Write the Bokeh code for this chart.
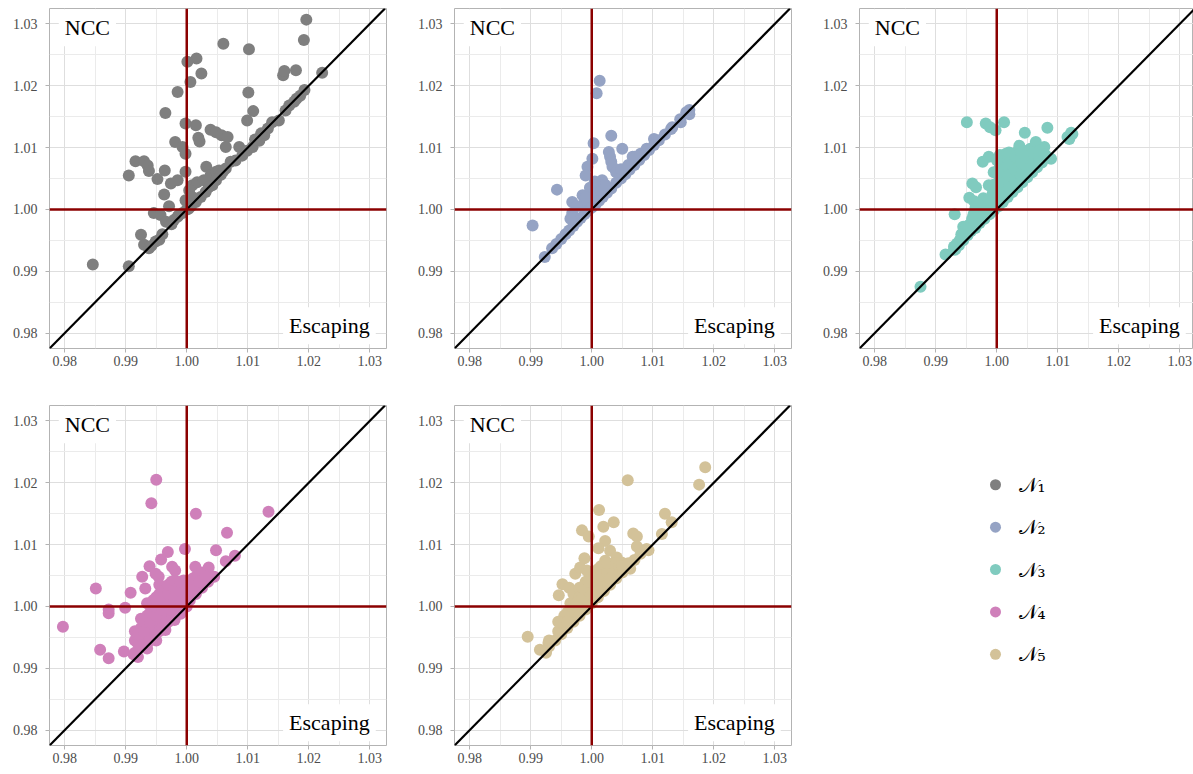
from bokeh.plotting import figure
from bokeh.models import Range1d, FixedTicker, PrintfTickFormatter, Span, Slope, Label, ColumnDataSource
from bokeh.layouts import column, row
from bokeh.embed import file_html
from bokeh.resources import INLINE
from bokeh.core.properties import value

# ---------------- data (Escaping, NCC) ----------------
series_labels = ["𝒩₁", "𝒩₂", "𝒩₃", "𝒩₄", "𝒩₅"]
series_colors = ["#7F7F7F", "#95A3C4", "#80CBBF", "#CF80BA", "#D3C299"]
major_ticks = [0.98, 0.99, 1.00, 1.01, 1.02, 1.03]
minor_ticks = [0.975, 0.985, 0.995, 1.005, 1.015, 1.025, 1.035]
corner_top = "NCC"
corner_bottom = "Escaping"

n1_points = [
    (1.0196, 1.0307), (1.0192, 1.0274), (1.0060, 1.0268), (1.0102, 1.0259), (1.0016, 1.0244),
    (1.0001, 1.0239), (1.0024, 1.0220), (1.0006, 1.0206), (0.9985, 1.0190), (1.0101, 1.0189),
    (1.0158, 1.0217), (1.0160, 1.0224), (1.0179, 1.0225), (1.0222, 1.0221), (1.0193, 1.0193),
    (1.0180, 1.0179), (0.9846, 0.9911), (1.0176, 1.0174), (1.0186, 1.0184),
    (0.9965, 1.0156), (0.9998, 1.0139), (1.0015, 1.0136), (0.9981, 1.0109), (1.0019, 1.0116),
    (1.0021, 1.0110), (1.0039, 1.0129), (1.0048, 1.0125), (1.0057, 1.0120), (1.0067, 1.0117),
    (1.0064, 1.0101), (1.0099, 1.0144), (1.0109, 1.0159), (1.0140, 1.0141), (1.0168, 1.0168),
    (1.0086, 1.0101), (0.9993, 1.0101), (0.9998, 1.0090), (0.9916, 1.0078), (0.9930, 1.0078),
    (0.9936, 1.0071), (0.9938, 1.0062), (0.9905, 1.0055), (0.9964, 1.0063), (0.9952, 1.0049),
    (0.9974, 1.0042), (0.9985, 1.0047), (0.9998, 1.0061), (1.0032, 1.0069), (1.0009, 1.0039),
    (1.0017, 1.0044), (1.0028, 1.0047), (1.0039, 1.0055), (1.0048, 1.0061), (1.0053, 1.0063),
    (1.0072, 1.0077), (1.0080, 1.0079), (1.0091, 1.0087), (1.0099, 1.0095), (1.0108, 1.0101),
    (1.0119, 1.0111), (1.0127, 1.0120), (1.0151, 1.0144), (1.0162, 1.0160), (1.0064, 1.0066),
    (0.9963, 1.0024), (0.9971, 1.0005), (0.9946, 0.9994), (0.9957, 0.9991), (0.9966, 0.9980),
    (0.9987, 0.9991), (0.9925, 0.9959), (0.9930, 0.9943), (0.9938, 0.9937), (0.9949, 0.9948),
    (0.9955, 0.9951), (0.9905, 0.9908), (0.9998, 1.0015), (1.0004, 1.0031), (1.0009, 1.0020),
    (0.9979, 0.9983), (0.9985, 0.9988), (0.9993, 0.9994), (1.0007, 1.0005), (1.0015, 1.0012),
    (1.0023, 1.0020), (1.0031, 1.0028), (1.0042, 1.0039), (1.0048, 1.0047), (1.0056, 1.0056),
    (1.0060, 1.0062), (1.0036, 1.0036), (0.9960, 0.9960), (0.9942, 0.9941), (0.9975, 0.9976),
    (1.0112, 1.0113), (1.0133, 1.0131), (1.0122, 1.0123), (1.0003, 1.0001), (1.0000, 1.0000),
]

n2_points = [
    (1.0013, 1.0208), (1.0008, 1.0188), (1.0032, 1.0119), (1.0003, 1.0107), (1.0050, 1.0098),
    (1.0028, 1.0093), (1.0030, 1.0085), (1.0032, 1.0077), (1.0034, 1.0069), (1.0001, 1.0082),
    (0.9993, 1.0069), (0.9990, 1.0055), (1.0017, 1.0047), (1.0012, 1.0036), (0.9943, 1.0032),
    (0.9903, 0.9974), (0.9985, 1.0023), (0.9968, 1.0012), (0.9968, 0.9994), (0.9987, 1.0010),
    (0.9996, 1.0018), (1.0004, 1.0028), (0.9923, 0.9923), (1.0056, 1.0066), (1.0067, 1.0085),
    (1.0078, 1.0087), (1.0102, 1.0114), (1.0130, 1.0130), (1.0146, 1.0141), (1.0160, 1.0154),
    (0.9935, 0.9937), (0.9942, 0.9944), (0.9950, 0.9952), (0.9957, 0.9960), (0.9963, 0.9966),
    (0.9970, 0.9973), (0.9976, 0.9980), (0.9982, 0.9986), (0.9988, 0.9992), (0.9994, 0.9998),
    (1.0000, 1.0003), (1.0006, 1.0008), (1.0012, 1.0014), (1.0018, 1.0020), (1.0025, 1.0027),
    (1.0032, 1.0034), (1.0040, 1.0043), (1.0048, 1.0050), (1.0055, 1.0057), (1.0062, 1.0064),
    (1.0070, 1.0072), (1.0078, 1.0080), (1.0086, 1.0088), (1.0094, 1.0096), (1.0102, 1.0104),
    (1.0110, 1.0112), (1.0120, 1.0121), (1.0132, 1.0133), (1.0145, 1.0146), (1.0155, 1.0157),
    (1.0160, 1.0161), (1.0015, 1.0030), (1.0022, 1.0040), (1.0040, 1.0060), (1.0048, 1.0065),
    (1.0060, 1.0072), (1.0070, 1.0085), (1.0080, 1.0090), (1.0090, 1.0098), (1.0005, 1.0045),
    (0.9997, 1.0035), (0.9990, 1.0020), (0.9975, 1.0005), (0.9965, 0.9985),
]

n3_points = [
    (0.9951, 1.0141), (0.9982, 1.0139), (0.9989, 1.0133), (0.9998, 1.0128), (1.0012, 1.0141),
    (1.0046, 1.0124), (1.0083, 1.0132), (1.0119, 1.0114), (1.0124, 1.0122), (1.0037, 1.0103),
    (1.0050, 1.0095), (1.0064, 1.0109), (1.0078, 1.0101), (0.9987, 1.0085), (0.9977, 1.0077),
    (0.9960, 1.0042), (0.9966, 1.0036), (0.9987, 1.0039), (0.9955, 1.0019), (0.9931, 0.9992),
    (0.9916, 0.9927), (1.0089, 1.0082), (0.9875, 0.9875), (0.9963, 1.0013), (0.9945, 0.9972),
    (0.9940, 0.9951), (0.9932, 0.9935),
    (1.0005, 1.0010), (1.0005, 1.0030), (1.0005, 1.0050), (1.0005, 1.0070), (1.0005, 1.0088),
    (1.0015, 1.0020), (1.0015, 1.0040), (1.0015, 1.0060), (1.0015, 1.0080), (1.0015, 1.0090),
    (1.0025, 1.0030), (1.0025, 1.0050), (1.0025, 1.0070), (1.0025, 1.0090),
    (1.0035, 1.0040), (1.0035, 1.0060), (1.0035, 1.0080), (1.0035, 1.0095),
    (1.0045, 1.0050), (1.0045, 1.0070), (1.0045, 1.0090), (1.0055, 1.0060), (1.0055, 1.0080),
    (1.0055, 1.0098), (1.0065, 1.0070), (1.0065, 1.0085), (1.0075, 1.0080),
    (0.9985, 1.0015), (0.9975, 1.0010), (0.9970, 1.0005), (0.9965, 1.0002), (0.9960, 0.9985),
    (0.9955, 0.9970), (0.9950, 0.9960), (0.9940, 0.9950), (0.9935, 0.9945), (0.9930, 0.9940),
    (0.9945, 0.9955), (0.9962, 0.9975), (0.9970, 0.9980), (0.9980, 0.9990), (0.9990, 0.9995),
    (0.9985, 1.0005), (0.9993, 1.0025), (0.9995, 1.0040), (0.9995, 1.0060),
    (0.9930, 0.9935), (0.9938, 0.9942), (0.9945, 0.9950), (0.9952, 0.9958), (0.9958, 0.9965),
    (0.9965, 0.9970), (0.9972, 0.9978), (0.9980, 0.9985), (0.9988, 0.9992), (0.9995, 0.9998),
    (1.0003, 1.0005), (1.0010, 1.0012), (1.0018, 1.0020), (1.0026, 1.0028), (1.0034, 1.0036),
    (1.0042, 1.0044), (1.0050, 1.0052), (1.0058, 1.0060), (1.0066, 1.0068), (1.0074, 1.0076),
    (1.0082, 1.0084), (1.0116, 1.0117), (1.0122, 1.0124), (0.9948, 0.9965), (0.9955, 0.9975),
    (0.9960, 0.9985), (0.9965, 0.9992), (0.9970, 0.9998), (0.9975, 1.0003), (0.9982, 1.0008),
    (0.9988, 1.0012), (0.9978, 1.0018),
    (1.0010, 1.0020), (1.0010, 1.0045), (1.0010, 1.0065), (1.0010, 1.0085), (1.0020, 1.0035),
    (1.0020, 1.0055), (1.0020, 1.0075), (1.0020, 1.0092), (1.0030, 1.0045), (1.0030, 1.0065),
    (1.0030, 1.0085), (1.0040, 1.0055), (1.0040, 1.0075), (1.0040, 1.0092), (1.0050, 1.0065),
    (1.0050, 1.0085), (1.0060, 1.0075), (1.0060, 1.0092), (1.0070, 1.0080), (1.0070, 1.0095),
    (1.0080, 1.0088), (1.0002, 1.0020), (1.0002, 1.0060), (1.0000, 1.0080), (0.9992, 1.0010),
    (0.9980, 1.0000), (0.9972, 0.9990), (0.9962, 0.9992), (0.9950, 0.9970), (0.9942, 0.9960),
    (0.9975, 1.0012), (0.9968, 1.0010),
]

n4_points = [
    (0.9950, 1.0205), (0.9942, 1.0167), (1.0015, 1.0150), (1.0134, 1.0153), (1.0066, 1.0119),
    (0.9997, 1.0093), (1.0048, 1.0091), (0.9969, 1.0088), (0.9958, 1.0076), (0.9976, 1.0064),
    (0.9981, 1.0058), (0.9939, 1.0065), (0.9927, 1.0048), (0.9932, 1.0029), (0.9908, 1.0022),
    (0.9851, 1.0029), (0.9899, 0.9998), (0.9872, 0.9989), (0.9797, 0.9967), (0.9858, 0.9930),
    (0.9872, 0.9916), (0.9897, 0.9927), (0.9913, 0.9922), (1.0079, 1.0082), (1.0064, 1.0073),
    (1.0014, 1.0064), (1.0036, 1.0063), (0.9949, 1.0053), (0.9954, 1.0048), (0.9872, 0.9995),
    (0.9915, 0.9925), (0.9915, 0.9945), (0.9915, 0.9960),
    (0.9925, 0.9935), (0.9925, 0.9950), (0.9925, 0.9965), (0.9925, 0.9980),
    (0.9935, 0.9940), (0.9935, 0.9955), (0.9935, 0.9970), (0.9935, 0.9985), (0.9935, 1.0005),
    (0.9945, 0.9950), (0.9945, 0.9965), (0.9945, 0.9980), (0.9945, 0.9995), (0.9945, 1.0010),
    (0.9955, 0.9960), (0.9955, 0.9975), (0.9955, 0.9990), (0.9955, 1.0005), (0.9955, 1.0020),
    (0.9955, 1.0035), (0.9965, 0.9970), (0.9965, 0.9985), (0.9965, 1.0000), (0.9965, 1.0015),
    (0.9965, 1.0030), (0.9975, 0.9980), (0.9975, 0.9995), (0.9975, 1.0010), (0.9975, 1.0025),
    (0.9975, 1.0040), (0.9985, 0.9990), (0.9985, 1.0005), (0.9985, 1.0020), (0.9985, 1.0035),
    (0.9995, 1.0000), (0.9995, 1.0015), (0.9995, 1.0030), (0.9995, 1.0042),
    (1.0005, 1.0010), (1.0005, 1.0025), (1.0005, 1.0040), (1.0015, 1.0020), (1.0015, 1.0035),
    (1.0015, 1.0048), (1.0025, 1.0030), (1.0025, 1.0045), (1.0025, 1.0055),
    (1.0035, 1.0040), (1.0035, 1.0050), (1.0045, 1.0048),
    (0.9920, 0.9918), (0.9935, 0.9932), (0.9950, 0.9945), (0.9965, 0.9962), (0.9980, 0.9978),
    (0.9990, 0.9988), (1.0000, 1.0000),
    (0.9920, 0.9940), (0.9920, 0.9955), (0.9930, 0.9960), (0.9930, 0.9975), (0.9940, 0.9975),
    (0.9940, 0.9990), (0.9950, 0.9985), (0.9950, 1.0000), (0.9950, 1.0015), (0.9960, 0.9995),
    (0.9960, 1.0010), (0.9960, 1.0025), (0.9970, 1.0005), (0.9970, 1.0020), (0.9970, 1.0035),
    (0.9980, 1.0015), (0.9980, 1.0030), (0.9980, 1.0042), (0.9990, 1.0010), (0.9990, 1.0025),
    (0.9990, 1.0040), (1.0000, 1.0020), (1.0000, 1.0035), (1.0010, 1.0030), (1.0010, 1.0045),
    (1.0020, 1.0040), (1.0030, 1.0048), (0.9940, 0.9945), (0.9960, 0.9965), (0.9970, 0.9975),
    (0.9990, 0.9995),
]

n5_points = [
    (1.0186, 1.0225), (1.0176, 1.0197), (1.0059, 1.0204), (1.0012, 1.0156), (0.9984, 1.0123),
    (0.9995, 1.0113), (1.0019, 1.0129), (1.0036, 1.0136), (1.0120, 1.0150), (1.0131, 1.0136),
    (1.0115, 1.0117), (1.0068, 1.0118), (1.0074, 1.0113), (1.0022, 1.0106), (1.0011, 1.0094),
    (1.0030, 1.0090), (1.0041, 1.0079), (1.0049, 1.0071), (1.0074, 1.0097), (1.0093, 1.0091),
    (0.9988, 1.0078), (0.9952, 1.0036), (0.9963, 1.0030), (0.9946, 1.0018), (0.9895, 0.9951),
    (0.9915, 0.9930), (0.9929, 0.9941), (0.9973, 1.0053), (0.9981, 1.0063), (0.9992, 1.0058),
    (1.0022, 1.0074), (1.0033, 1.0069), (1.0044, 1.0064), (1.0055, 1.0062), (1.0063, 1.0061),
    (0.9925, 0.9925), (0.9930, 0.9935),
    (0.9925, 0.9928), (0.9930, 0.9945), (0.9940, 0.9945), (0.9945, 0.9960), (0.9950, 0.9955),
    (0.9955, 0.9970), (0.9960, 0.9965), (0.9965, 0.9980), (0.9970, 0.9975), (0.9975, 0.9990),
    (0.9980, 0.9985), (0.9985, 1.0000), (0.9990, 0.9995), (0.9995, 1.0010), (1.0000, 1.0005),
    (1.0005, 1.0020), (1.0010, 1.0015), (1.0015, 1.0030), (1.0020, 1.0025), (1.0025, 1.0040),
    (1.0030, 1.0035), (1.0035, 1.0050), (1.0040, 1.0045), (1.0045, 1.0055), (1.0050, 1.0055),
    (1.0060, 1.0065), (1.0070, 1.0075), (1.0080, 1.0085), (1.0090, 1.0093), (0.9965, 1.0005),
    (0.9970, 1.0020), (0.9980, 1.0030), (0.9990, 1.0040), (0.9995, 1.0055), (1.0005, 1.0050),
    (1.0010, 1.0060), (1.0015, 1.0065), (1.0020, 1.0055), (1.0030, 1.0060), (0.9960, 0.9990),
    (0.9955, 0.9985), (0.9950, 0.9975), (0.9945, 0.9975), (0.9980, 1.0015), (0.9990, 1.0020),
    (1.0000, 1.0030), (1.0005, 1.0035), (1.0010, 1.0040),
    (0.9975, 1.0005), (0.9985, 1.0015), (0.9995, 1.0025), (1.0005, 1.0045), (1.0015, 1.0050),
    (1.0025, 1.0055), (1.0035, 1.0060), (1.0025, 1.0070), (1.0040, 1.0070), (1.0045, 1.0065),
    (0.9960, 0.9975), (0.9985, 1.0030), (0.9995, 1.0040), (1.0010, 1.0025), (1.0030, 1.0045),
    (1.0050, 1.0065), (1.0060, 1.0070),
]

all_points = [n1_points, n2_points, n3_points, n4_points, n5_points]

# ---------------- styling ----------------
SERIF = "Liberation Serif"
AX_START = 0.9775
AX_END = 1.0325
PX_PER_UNIT = 6100.0
LABEL_PAD = 6


def make_panel(points, color, width, height, b_left, b_right, b_top, b_bottom, x_end):
    xs = [p[0] for p in points]
    ys = [p[1] for p in points]
    p = figure(width=width, height=height,
               x_range=Range1d(AX_START, x_end), y_range=Range1d(AX_START, AX_END),
               output_backend="svg", toolbar_location=None,
               min_border_left=b_left, min_border_right=b_right,
               min_border_top=b_top, min_border_bottom=b_bottom)
    p.background_fill_color = "white"
    p.border_fill_color = "white"
    p.outline_line_color = "#B3B3B3"
    p.outline_line_width = 1
    for ax in (p.xaxis, p.yaxis):
        ax.ticker = FixedTicker(ticks=major_ticks, minor_ticks=minor_ticks)
        ax.formatter = PrintfTickFormatter(format="%.2f")
        ax.axis_line_color = None
        ax.major_tick_line_color = "#B3B3B3"
        ax.major_tick_in = 0
        ax.major_tick_out = 4
        ax.minor_tick_line_color = None
        ax.major_label_text_font = SERIF
        ax.major_label_text_font_size = "14px"
        ax.major_label_text_color = "#4D4D4D"
    p.xaxis.major_label_standoff = 3
    p.yaxis.major_label_standoff = 8
    for g in (p.xgrid, p.ygrid):
        g.grid_line_color = "#DEDEDE"
        g.grid_line_width = 1
        g.minor_grid_line_color = "#EBEBEB"
        g.minor_grid_line_width = 1

    src = ColumnDataSource(data=dict(x=xs, y=ys))
    p.scatter("x", "y", source=src, size=12, fill_color=color, line_color=None)

    p.add_layout(Slope(gradient=1, y_intercept=0, line_color="black", line_width=2.2))
    p.add_layout(Span(location=1.0, dimension="width", line_color="#8B0000", line_width=2.5))
    p.add_layout(Span(location=1.0, dimension="height", line_color="#8B0000", line_width=2.5))

    p.add_layout(Label(x=0.98 - LABEL_PAD / PX_PER_UNIT, y=1.0294, text=corner_top,
                       text_font=SERIF, text_font_size="22px", text_color="black",
                       text_baseline="middle", text_align="left",
                       background_fill_color="white", padding=LABEL_PAD))
    p.add_layout(Label(x=1.0300 + LABEL_PAD / PX_PER_UNIT, y=0.9812, text=corner_bottom,
                       text_font=SERIF, text_font_size="22px", text_color="black",
                       text_baseline="middle", text_align="right",
                       background_fill_color="white", padding=LABEL_PAD))
    return p


# column widths / row heights (page has no visible margin)
col_widths = [413, 405, 375]
col_left = [49, 41, 41]
col_right = [27, 27, 0]
row_heights = [405, 369]
row_top = [8, 0]
row_bottom = [57, 29]

panels = []
for i, pts in enumerate(all_points):
    r, c = divmod(i, 3)
    frame_w = col_widths[c] - col_left[c] - col_right[c]
    xe = AX_START + frame_w / PX_PER_UNIT
    panels.append(make_panel(pts, series_colors[i], col_widths[c], row_heights[r],
                             col_left[c], col_right[c], row_top[r], row_bottom[r], xe))

# legend panel
LEG_W, LEG_H = col_widths[2], row_heights[1]
LEG_TOP, LEG_STEP = 86, 46.0
idx = list(range(len(series_labels)))
leg = figure(width=LEG_W, height=LEG_H, x_range=Range1d(0, LEG_W),
             y_range=Range1d((LEG_H - LEG_TOP) / LEG_STEP, -LEG_TOP / LEG_STEP),
             output_backend="svg", toolbar_location=None,
             min_border_left=0, min_border_right=0, min_border_top=0, min_border_bottom=0)
leg.axis.visible = False
leg.grid.visible = False
leg.outline_line_color = None
leg_src = ColumnDataSource(data=dict(x=[177] * len(idx), tx=[200] * len(idx), y=idx,
                                     label=series_labels, color=series_colors))
leg.scatter("x", "y", source=leg_src, size=11, fill_color="color", line_color=None)
leg.text("tx", "y", text="label", source=leg_src, text_font=value("DejaVu Serif"),
         text_font_size="20px", text_baseline="middle", text_color="black")

layout = column(row(panels[0], panels[1], panels[2]), row(panels[3], panels[4], leg))

open("out.html", "w").write(file_html(layout, INLINE))
